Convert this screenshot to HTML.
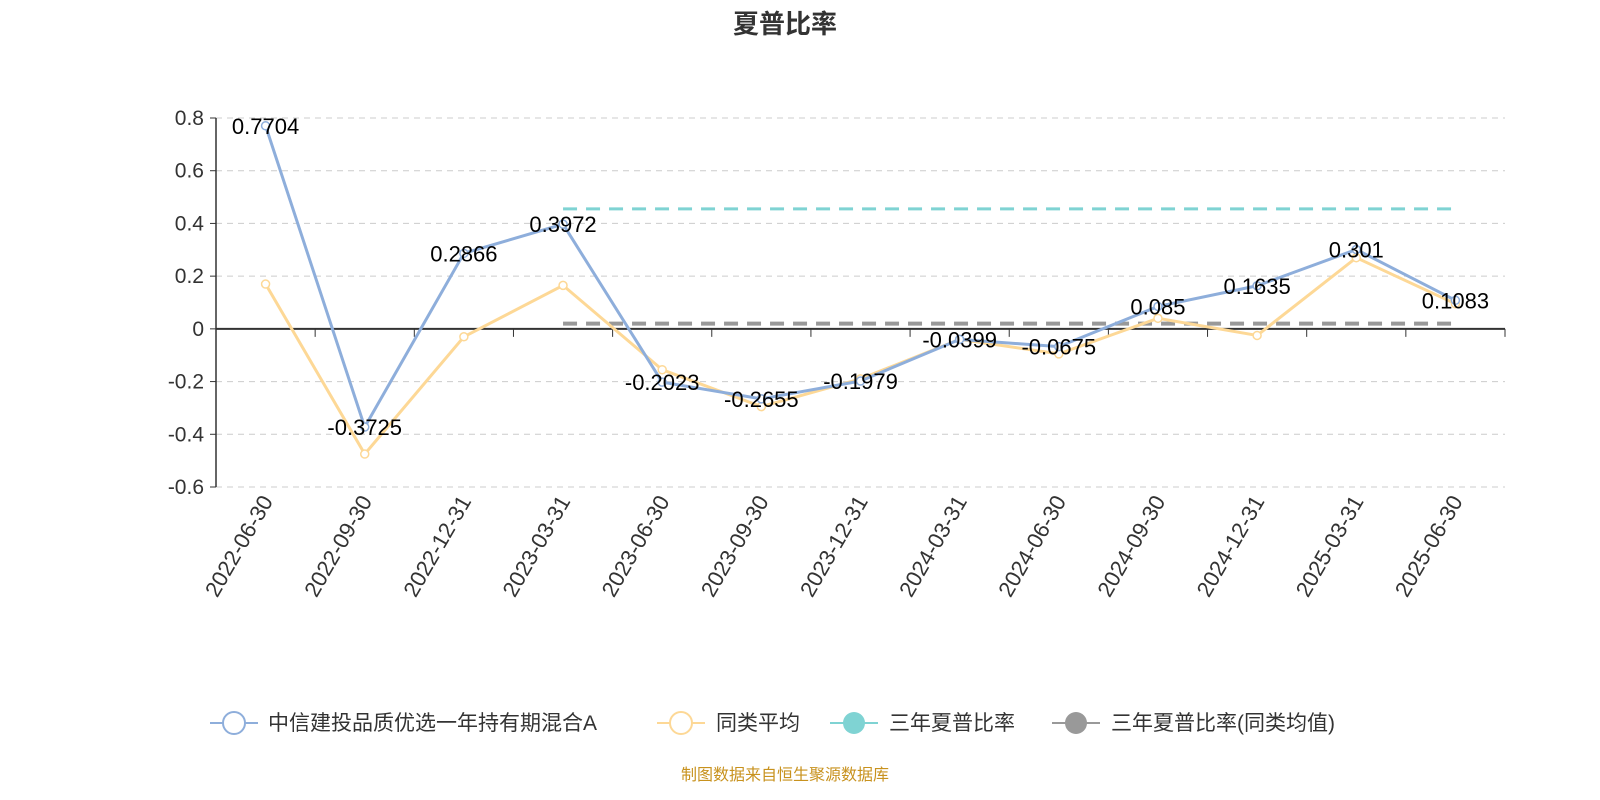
<!DOCTYPE html>
<html><head><meta charset="utf-8">
<style>
body{margin:0;background:#fff;font-family:"Liberation Sans","Noto Sans CJK SC",sans-serif;}
svg{display:block}
</style></head>
<body>
<svg id="chart" width="1600" height="800" font-family="Liberation Sans, Noto Sans CJK SC, sans-serif">
<text x="785" y="33" text-anchor="middle" font-size="26" font-weight="bold" fill="#333">夏普比率</text>
<g id="grid"></g><g id="axes"></g><g id="series"></g><g id="labels"></g>
<g font-size="21" fill="#333">
 <g><line x1="210" y1="723" x2="258" y2="723" stroke="#8eaedb" stroke-width="2"/><circle cx="234" cy="723" r="11" fill="#fff" stroke="#8eaedb" stroke-width="2"/><text x="268" y="730">中信建投品质优选一年持有期混合A</text></g>
 <g><line x1="657" y1="723" x2="705" y2="723" stroke="#fdd896" stroke-width="2"/><circle cx="681" cy="723" r="11" fill="#fff" stroke="#fdd896" stroke-width="2"/><text x="716" y="730">同类平均</text></g>
 <g><line x1="830" y1="723" x2="878" y2="723" stroke="#7fd3d3" stroke-width="2"/><circle cx="854" cy="723" r="11" fill="#7fd3d3"/><text x="889" y="730">三年夏普比率</text></g>
 <g><line x1="1052" y1="723" x2="1100" y2="723" stroke="#999" stroke-width="2"/><circle cx="1076" cy="723" r="11" fill="#999"/><text x="1111" y="730">三年夏普比率(同类均值)</text></g>
</g>
<text x="785" y="780" text-anchor="middle" font-size="16" fill="#c8921e">制图数据来自恒生聚源数据库</text>
</svg>
<script>
const categories=["2022-06-30","2022-09-30","2022-12-31","2023-03-31","2023-06-30","2023-09-30","2023-12-31","2024-03-31","2024-06-30","2024-09-30","2024-12-31","2025-03-31","2025-06-30"];
const fundValues=[0.7704,-0.3725,0.2866,0.3972,-0.2023,-0.2655,-0.1979,-0.0399,-0.0675,0.085,0.1635,0.301,0.1083];
const peerValues=[0.17,-0.475,-0.03,0.165,-0.155,-0.295,-0.19,-0.04,-0.095,0.04,-0.025,0.27,0.095];
const sharpe3y=0.455;
const sharpe3yPeer=0.02;
const sharpeStartIndex=3;
const yTicks=[0.8,0.6,0.4,0.2,0,-0.2,-0.4,-0.6];
const NS="http://www.w3.org/2000/svg";
const L=216,R=1505,T=118,B=487,yMax=0.8,yMin=-0.6;
const bw=(R-L)/categories.length;
const x=i=>L+bw*(i+0.5);
const y=v=>T+(yMax-v)/(yMax-yMin)*(B-T);
function mk(tag,attrs,parent){const e=document.createElementNS(NS,tag);for(const k in attrs)e.setAttribute(k,attrs[k]);parent.appendChild(e);return e;}
const grid=document.getElementById('grid'),axes=document.getElementById('axes'),ser=document.getElementById('series'),lab=document.getElementById('labels');
yTicks.forEach(t=>{
 if(t!==0){const g=mk('line',{x1:L,x2:R,y1:y(t),y2:y(t),stroke:'#ccc','stroke-dasharray':'6,5'},grid);
 
 }
 const tx=mk('text',{x:L-12,y:y(t)+7,'text-anchor':'end','font-size':21,fill:'#333'},axes);tx.textContent=String(t);
 
 
 const tk=mk('line',{x1:L-6,x2:L,y1:y(t),y2:y(t),stroke:'#333'},axes);
 
 
});
const ya=mk('line',{x1:L,x2:L,y1:T,y2:B,stroke:'#333','stroke-width':1.5},axes);


const xa=mk('line',{x1:L,x2:R,y1:y(0),y2:y(0),stroke:'#333','stroke-width':2},axes);


for(let i=0;i<=categories.length;i++){const tk=mk('line',{x1:L+bw*i,x2:L+bw*i,y1:y(0),y2:y(0)+8,stroke:'#333'},axes);
 
 }
categories.forEach((c,i)=>{const t=mk('text',{x:x(i)+8,y:B+14,'text-anchor':'end','font-size':22,fill:'#333',transform:`rotate(-60 ${x(i)+8} ${B+14})`},axes);t.textContent=c;
 
 });
const l1=mk('line',{x1:x(sharpeStartIndex),x2:x(categories.length-1),y1:y(sharpe3y),y2:y(sharpe3y),stroke:'#7fd3d3','stroke-width':3,'stroke-dasharray':'14,9'},ser);


const l2=mk('line',{x1:x(sharpeStartIndex),x2:x(categories.length-1),y1:y(sharpe3yPeer),y2:y(sharpe3yPeer),stroke:'#999','stroke-width':4,'stroke-dasharray':'14,9'},ser);


function drawSeries(vals,color,name){
 const p=mk('polyline',{points:vals.map((v,i)=>x(i)+','+y(v)).join(' '),fill:'none',stroke:color,'stroke-width':3},ser);
 
 
 vals.forEach((v,i)=>{const c=mk('circle',{cx:x(i),cy:y(v),r:4,fill:'#fff',stroke:color,'stroke-width':1.5},ser);
 
 });
}
drawSeries(peerValues,'#fdd896','peer-average');
drawSeries(fundValues,'#8eaedb','fund');
fundValues.forEach((v,i)=>{const t=mk('text',{x:x(i),y:y(v)+8,'text-anchor':'middle','font-size':22,fill:'#000'},lab);t.textContent=String(v);
 
 });
</script>
</body></html>
